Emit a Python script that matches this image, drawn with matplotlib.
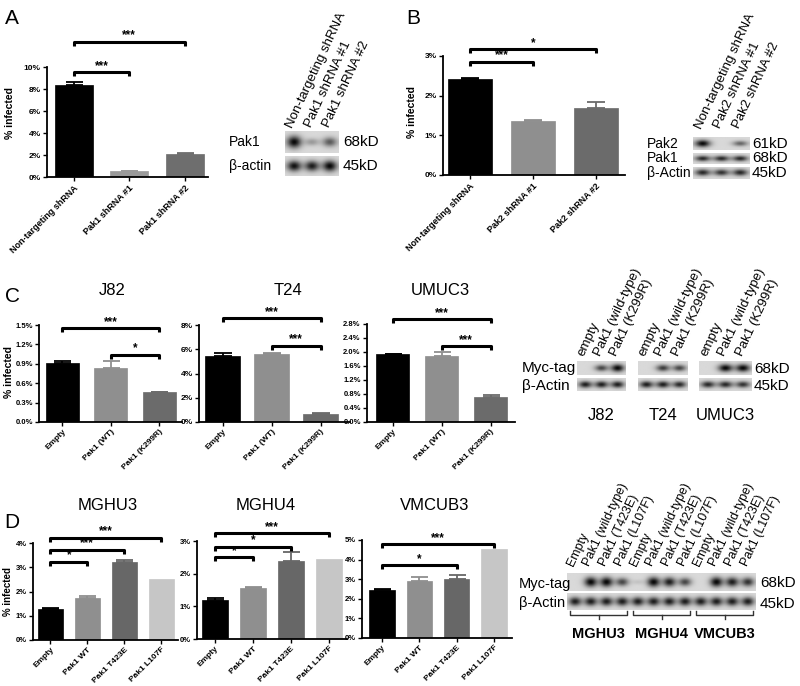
import numpy as np
import matplotlib
matplotlib.use('Agg')
import matplotlib.pyplot as plt

plt.rcParams['font.family'] = ['Liberation Sans', 'DejaVu Sans']

# ---- data -------------------------------------------------------------
a_labels = ['Non-targeting shRNA', 'Pak1 shRNA #1', 'Pak1 shRNA #2']
a_vals = [8.4, 0.55, 2.1]
a_errs = [0.2, 0.02, 0.05]
a_sig = [(0, 1, 9.5, '***'), (0, 2, 12.3, '***')]

b_labels = ['Non-targeting shRNA', 'Pak2 shRNA #1', 'Pak2 shRNA #2']
b_vals = [2.42, 1.37, 1.70]
b_errs = [0.03, 0.02, 0.14]
b_sig = [(0, 1, 2.85, '***'), (0, 2, 3.17, '*')]

c_labels = ['Empty', 'Pak1 (WT)', 'Pak1 (K299R)']
j82_vals = [0.92, 0.83, 0.46]
j82_errs = [0.03, 0.12, 0.01]
j82_sig = [(0, 2, 1.45, '***'), (1, 2, 1.04, '*')]
t24_vals = [5.45, 5.6, 0.7]
t24_errs = [0.22, 0.12, 0.02]
t24_sig = [(0, 2, 8.55, '***'), (1, 2, 6.3, '***')]
umuc3_vals = [1.93, 1.90, 0.72]
umuc3_errs = [0.02, 0.09, 0.06]
umuc3_sig = [(0, 2, 2.94, '***'), (1, 2, 2.16, '***')]

d_labels = ['Empty', 'Pak1 WT', 'Pak1 T423E', 'Pak1 L107F']
mghu3_vals = [1.27, 1.75, 3.23, 2.53]
mghu3_errs = [0.07, 0.06, 0.07, 0]
mghu3_sig = [(0, 1, 3.23, '*'), (0, 2, 3.71, '***'), (0, 3, 4.22, '***')]
mghu4_vals = [1.20, 1.56, 2.40, 2.45]
mghu4_errs = [0.07, 0.03, 0.26, 0]
mghu4_sig = [(0, 1, 2.5, '*'), (0, 2, 2.82, '*'), (0, 3, 3.24, '***')]
vmcub3_vals = [2.46, 2.90, 3.02, 4.53]
vmcub3_errs = [0.05, 0.23, 0.17, 0]
vmcub3_sig = [(0, 2, 3.71, '*'), (0, 3, 4.78, '***')]

# blot band strengths (0 = no band, 1 = strong)
blot_a = {'Pak1': [1.0, 0.3, 0.6], 'β-actin': [0.95, 0.9, 1.0]}
blot_b = {'Pak2': [1.0, 0.0, 0.55], 'Pak1': [0.85, 0.85, 0.85], 'β-Actin': [0.85, 0.8, 0.85]}
c_lanes = ['empty', 'Pak1 (wild-type)', 'Pak1 (K299R)']
c_lines = ['J82', 'T24', 'UMUC3']
c_myc = [[0.0, 0.7, 1.0], [0.0, 0.75, 0.7], [0.0, 1.0, 1.0]]
c_actin = [[0.9, 0.9, 0.9], [0.9, 0.9, 0.85], [0.85, 0.85, 0.8]]
d_lanes = ['Empty', 'Pak1 (wild-type)', 'Pak1 (T423E)', 'Pak1 (L107F)'] * 3
d_lines = ['MGHU3', 'MGHU4', 'VMCUB3']
d_myc = [0.0, 1.0, 1.0, 0.7, 0.1, 1.0, 0.9, 0.7, 0.0, 1.0, 0.9, 0.8]
d_actin = [0.9] * 12

W, H = 800, 686
fig = plt.figure(figsize=(8, 6.86), dpi=100)


def px_axes(l, t, r, b):
    return fig.add_axes([l / W, 1 - b / H, (r - l) / W, (b - t) / H])


def ftext(x, y, s, **kw):
    fig.text(x / W, 1 - y / H, s, **kw)


def bar_panel(rect, labels, vals, errs, colors, ymax, ystep, fmt, sig,
              pad_l, pad_r, width=0.68, xfs=6, yfs=6):
    ax = px_axes(*rect)
    x = np.arange(len(vals))
    ax.bar(x, vals, width, color=colors, edgecolor=colors, linewidth=0.5, zorder=2)
    for xi, v, e, c in zip(x, vals, errs, colors):
        if e > 0:
            ax.errorbar(xi, v, yerr=[[0], [e]], fmt='none', ecolor=c,
                        elinewidth=1.3, capsize=width * 9, capthick=1.3, zorder=1)
    ax.set_xlim(-pad_l, len(vals) - 1 + pad_r)
    ax.set_ylim(0, ymax)
    ticks = np.arange(0, ymax + ystep / 2, ystep)
    ax.set_yticks(ticks)
    ax.set_yticklabels([fmt.format(t) for t in ticks], fontsize=yfs, fontweight='bold')
    ax.set_xticks(x)
    ax.set_xticklabels(labels, rotation=45, ha='right', rotation_mode='anchor',
                       fontsize=xfs, fontweight='bold')
    for s in ['top', 'right']:
        ax.spines[s].set_visible(False)
    for s in ['left', 'bottom']:
        ax.spines[s].set_linewidth(1.3)
    ax.tick_params(length=3, width=1, pad=1.5)
    hpx = (rect[3] - rect[1])
    d = 4.0 / hpx * ymax
    for i, j, y, star in sig:
        ax.plot([i, i, j, j], [y - d, y, y, y - d], color='black', lw=2.2,
                clip_on=False, solid_capstyle='butt')
        ax.text((i + j) / 2, y + d * 0.1, star, ha='center', va='bottom',
                fontsize=8.5, fontweight='bold')
    return ax


def blot_row(l, t, r, b, bands):
    ax = px_axes(l, t, r, b)
    n = len(bands)
    xs = np.linspace(0, n, n * 30)
    ys = np.linspace(-1, 1, 40)
    X, Y = np.meshgrid(xs, ys)
    img = np.full(X.shape, 0.85)
    for i, v in enumerate(bands):
        sy = 0.25 + 0.3 * v
        img -= 0.82 * v * np.exp(-((X - i - 0.5) / 0.4) ** 2 - (Y / sy) ** 2)
    ax.imshow(np.clip(img, 0, 1), cmap='gray', vmin=0, vmax=1, aspect='auto',
              interpolation='bilinear')
    ax.set_axis_off()
    return ax


def lane_labels(l, r, y, names, fs, rot=65):
    n = len(names)
    step = (r - l) / n
    for i, s in enumerate(names):
        ftext(l + (i + 0.5) * step - 4, y, s, rotation=rot, rotation_mode='anchor',
              ha='left', va='center', fontsize=fs)


three = ['black', '#8f8f8f', '#6b6b6b']
four = ['black', '#8f8f8f', '#676767', '#c6c6c6']

# ---- panel A ----------------------------------------------------------
ftext(12, 18, 'A', fontsize=15, ha='center', va='center')
bar_panel((47, 67, 208, 177), a_labels, a_vals, a_errs, ['black', '#9a9a9a', '#6e6e6e'],
          10, 2, '{:.0f}%', a_sig, 0.48, 0.42, xfs=6.5)
ftext(10, 113, '% infected', rotation=90, ha='center', va='center',
      fontsize=7.5, fontweight='bold')
rows = list(blot_a.items())
blot_row(285, 131, 339, 153, rows[0][1])
blot_row(285, 156, 339, 176, rows[1][1])
for (name, _), y, kd in zip(rows, [142, 166], ['68kD', '45kD']):
    ftext(229, y, name, fontsize=10, va='center')
    ftext(343, y, kd, fontsize=11, va='center')
lane_labels(285, 339, 127, a_labels, 9.5)

# ---- panel B ----------------------------------------------------------
ftext(413, 18, 'B', fontsize=15, ha='center', va='center')
bar_panel((443, 56, 625, 175), b_labels, b_vals, b_errs, three,
          3, 1, '{:.0f}%', b_sig, 0.43, 0.46, width=0.7, xfs=6.5)
ftext(412, 112, '% infected', rotation=90, ha='center', va='center',
      fontsize=7.5, fontweight='bold')
rows = list(blot_b.items())
for (name, bands), (t, b), kd in zip(rows, [(137, 150), (153, 164), (167, 179)],
                                     ['61kD', '68kD', '45kD']):
    blot_row(693, t, 750, b, bands)
    ftext(647, (t + b) / 2, name, fontsize=10, va='center')
    ftext(752, (t + b) / 2, kd, fontsize=11, va='center')
lane_labels(693, 750, 128, b_labels, 9.5)

# ---- panel C ----------------------------------------------------------
ftext(12, 296, 'C', fontsize=15, ha='center', va='center')
ftext(112, 290, 'J82', fontsize=12, ha='center', va='center')
ftext(288, 290, 'T24', fontsize=12, ha='center', va='center')
ftext(440, 290, 'UMUC3', fontsize=12, ha='center', va='center')
bar_panel((39, 325, 182, 422), c_labels, j82_vals, j82_errs, three,
          1.5, 0.3, '{:.1f}%', j82_sig, 0.48, 0.47, yfs=5.5)
bar_panel((199, 325, 350, 422), c_labels, t24_vals, t24_errs, three,
          8, 2, '{:.0f}%', t24_sig, 0.48, 0.6, width=0.72)
bar_panel((367, 324, 515, 422), c_labels, umuc3_vals, umuc3_errs, three,
          2.8, 0.4, '{:.1f}%', umuc3_sig, 0.53, 0.5, yfs=5.5)
ftext(9, 372, '% infected', rotation=90, ha='center', va='center',
      fontsize=7.5, fontweight='bold')
c_x = [(577, 626), (638, 688), (699, 752)]
for (l, r), myc, act, name in zip(c_x, c_myc, c_actin, c_lines):
    blot_row(l, 361, r, 375, myc)
    blot_row(l, 378, r, 391, act)
    lane_labels(l, r, 355, c_lanes, 9.5)
    ftext((l + r) / 2, 415, name, fontsize=12, ha='center', va='center')
ftext(522, 368, 'Myc-tag', fontsize=11, va='center')
ftext(522, 386, 'β-Actin', fontsize=11, va='center')
ftext(754, 369, '68kD', fontsize=11, va='center')
ftext(754, 386, '45kD', fontsize=11, va='center')

# ---- panel D ----------------------------------------------------------
ftext(12, 522, 'D', fontsize=15, ha='center', va='center')
ftext(108, 505, 'MGHU3', fontsize=12, ha='center', va='center')
ftext(266, 505, 'MGHU4', fontsize=12, ha='center', va='center')
ftext(435, 505, 'VMCUB3', fontsize=12, ha='center', va='center')
bar_panel((33, 543, 178, 640), d_labels, mghu3_vals, mghu3_errs, four,
          4, 1, '{:.0f}%', mghu3_sig, 0.47, 0.45, yfs=5.5)
bar_panel((197, 541, 347, 639), d_labels, mghu4_vals, mghu4_errs, four,
          3, 1, '{:.0f}%', mghu4_sig, 0.47, 0.47, yfs=5.5)
bar_panel((362, 540, 512, 638), d_labels, vmcub3_vals, vmcub3_errs, four,
          5, 1, '{:.0f}%', vmcub3_sig, 0.54, 0.48, yfs=5.5)
ftext(8, 592, '% infected', rotation=90, ha='center', va='center',
      fontsize=7, fontweight='bold')
blot_row(567, 573, 756, 591, d_myc)
blot_row(567, 593, 756, 610, d_actin)
lane_labels(567, 756, 565, d_lanes, 9)
ftext(519, 584, 'Myc-tag', fontsize=10.5, va='center')
ftext(519, 603, 'β-Actin', fontsize=10.5, va='center')
ftext(760, 583, '68kD', fontsize=11, va='center')
ftext(760, 604, '45kD', fontsize=11, va='center')
gw = (756 - 567) / 3
for k, name in enumerate(d_lines):
    gl = 567 + k * gw + 3
    gr = 567 + (k + 1) * gw - 3
    gc = (gl + gr) / 2
    fig.lines.append(plt.Line2D([gl / W, gl / W, gr / W, gr / W],
                                [1 - 611 / H, 1 - 615 / H, 1 - 615 / H, 1 - 611 / H],
                                transform=fig.transFigure, color='#333333', lw=1))
    fig.lines.append(plt.Line2D([gc / W, gc / W], [1 - 615 / H, 1 - 619 / H],
                                transform=fig.transFigure, color='#333333', lw=1))
    ftext(gc, 634, name, fontsize=10.5, fontweight='bold', ha='center', va='center')

fig.savefig('out.png', dpi=100)
